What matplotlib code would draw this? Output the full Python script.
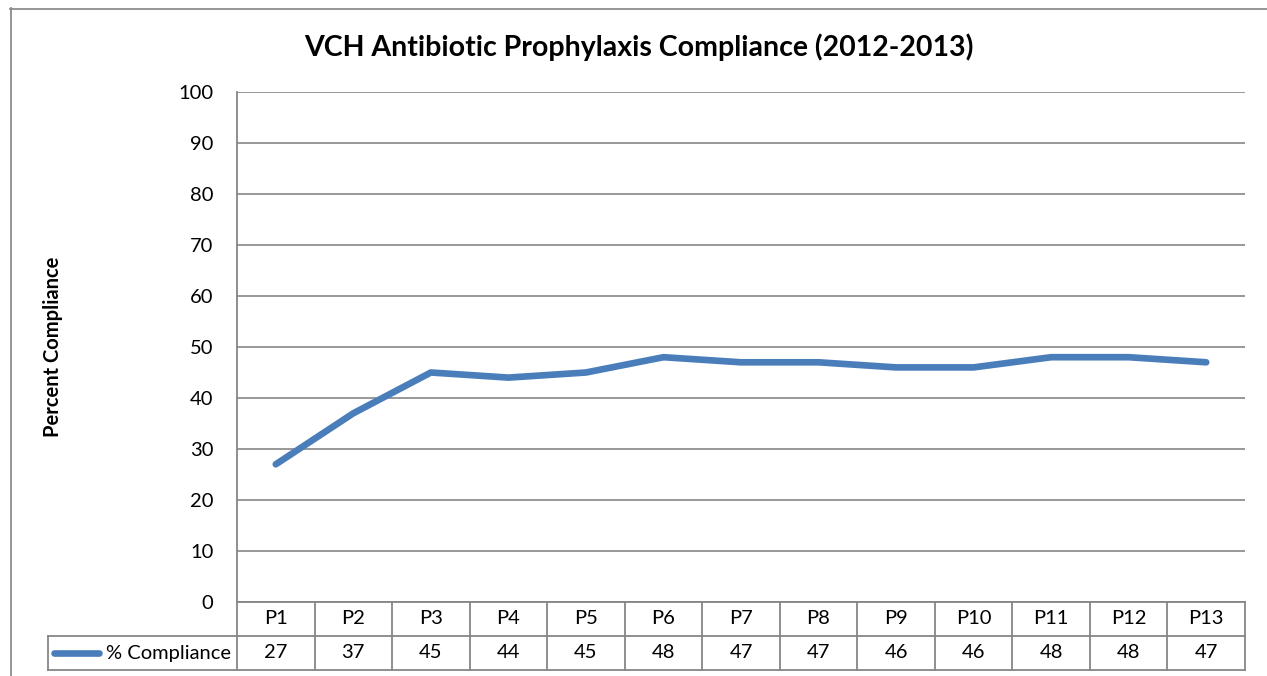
import matplotlib
matplotlib.use("Agg")
import matplotlib.pyplot as plt
from matplotlib.lines import Line2D

plt.rcParams['font.family'] = ['Lato', 'DejaVu Sans']

periods = ["P1", "P2", "P3", "P4", "P5", "P6", "P7", "P8", "P9", "P10", "P11", "P12", "P13"]
compliance = [27, 37, 45, 44, 45, 48, 47, 47, 46, 46, 48, 48, 47]
series_name = "% Compliance"
title = "VCH Antibiotic Prophylaxis Compliance (2012-2013)"
ylabel = "Percent Compliance"
yticks = list(range(0, 101, 10))

W, H = 1267, 676
fig = plt.figure(figsize=(W / 100, H / 100), dpi=100)

def fx(px):
    return px / W

def fy(py):
    return 1 - py / H

line_color = "#4A7EBB"
grid_color = "#868686"

# outer chart border
fig.add_artist(Line2D([fx(10), fx(1267)], [fy(8.5), fy(8.5)], color="#8c8c8c", lw=1.3))
fig.add_artist(Line2D([fx(10.5), fx(10.5)], [fy(8), fy(676)], color="#8c8c8c", lw=1.3))

left, right, top, bottom = 237, 1245, 92, 602
ax = fig.add_axes([fx(left), fy(bottom), fx(right - left), (bottom - top) / H])
n = len(periods)
x = list(range(n))
ax.plot(x, compliance, color=line_color, lw=4.8, solid_capstyle="round", solid_joinstyle="round", zorder=3)
ax.set_xlim(-0.5, n - 0.5)
ax.set_ylim(0, 100)
ax.set_yticks(yticks)
ax.set_yticklabels([str(v) for v in yticks], fontsize=14.5)
ax.tick_params(axis="y", length=0, pad=17)
ax.set_xticks([])
ax.grid(axis="y", color=grid_color, lw=1.2)
for s in ["top", "right"]:
    ax.spines[s].set_visible(False)
ax.spines["left"].set_color(grid_color)
ax.spines["left"].set_linewidth(1.3)
ax.spines["bottom"].set_color(grid_color)
ax.spines["bottom"].set_linewidth(1.3)

fig.text(fx(639), fy(47), title, ha="center", va="center", fontsize=20.5, fontweight="bold")
fig.text(fx(53), fy(347), ylabel, ha="center", va="center", rotation=90, fontsize=14.5, fontweight="bold")

# data table below the axis
tab_top, tab_bottom = 602, 670
tax = fig.add_axes([fx(left), fy(tab_bottom), fx(right - left), (tab_bottom - tab_top) / H], sharex=ax)
tax.set_ylim(0, 2)
tax.axis("off")
unit_px = (right - left) / n
legend_left = -0.5 - (left - 48) / unit_px
kw = dict(color=grid_color, lw=1.3, clip_on=False)
for i in range(n + 1):
    xv = -0.5 + i
    tax.plot([xv, xv], [0, 2], **kw)
tax.plot([legend_left, n - 0.5], [1, 1], **kw)
tax.plot([legend_left, n - 0.5], [0, 0], **kw)
tax.plot([legend_left, legend_left], [0, 1], **kw)
for i, (p, v) in enumerate(zip(periods, compliance)):
    tax.text(i, 1.5, p, ha="center", va="center", fontsize=14.5)
    tax.text(i, 0.5, str(v), ha="center", va="center", fontsize=14.5)
# legend key in the table
tax.plot([legend_left + 0.08, legend_left + 0.66], [0.5, 0.5], color=line_color, lw=4.8,
         solid_capstyle="round", clip_on=False)
tax.text(-0.58, 0.5, series_name, ha="right", va="center", fontsize=14.5)

fig.savefig("out.png", dpi=100)
